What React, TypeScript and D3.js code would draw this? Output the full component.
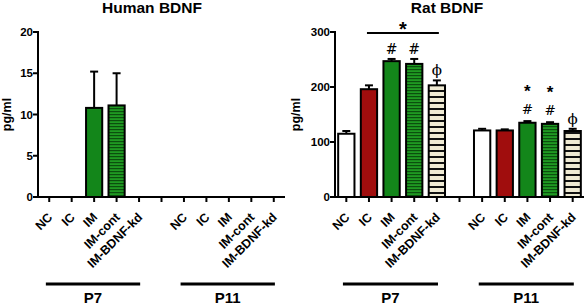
import React from "react";
import * as d3 from "d3";

const categories = ["NC", "IC", "IM", "IM-cont", "IM-BDNF-kd"];
const groups = ["P7", "P11"];

// Human BDNF (pg/ml): null = not detected / no bar
const humanP7: (number | null)[] = [null, null, 10.8, 11.1, null];
const humanP7Err: (number | null)[] = [null, null, 4.4, 3.9, null];
const humanP11: (number | null)[] = [null, null, null, null, null];
const humanP11Err: (number | null)[] = [null, null, null, null, null];

// Rat BDNF (pg/ml)
const ratP7 = [115, 196, 247, 242, 203];
const ratP7Err = [5, 7, 4, 9, 9];
const ratP11 = [121, 121, 135, 133, 120];
const ratP11Err = [3, 2, 3, 3, 4];

const humanTicks = [0, 5, 10, 15, 20];
const ratTicks = [0, 100, 200, 300];

// annotations per group: marks above each bar (top to bottom)
const ratP7Marks = [[], [], ["#"], ["#"], ["ϕ"]];
const ratP11Marks = [[], [], ["*", "#"], ["*", "#"], ["ϕ"]];

const FONT = "'Liberation Sans', Arial, Helvetica, sans-serif";
const SERIF = "'DejaVu Serif', serif";

type PanelProps = {
  id: string;
  title: string;
  titleX: number;
  x0: number;
  x1: number;
  yMax: number;
  ticks: number[];
  data: (number | null)[][];
  errs: (number | null)[][];
  marks?: string[][][];
  sigLine?: boolean;
  ylabelX: number;
};

const fills = (id: string) => [
  "#ffffff",
  "#a00d0d",
  "#13861a",
  `url(#${id}-stripeG)`,
  `url(#${id}-stripeK)`,
];

function Panel(p: PanelProps) {
  const yTop = 32;
  const yBot = 197;
  const y = d3.scaleLinear().domain([0, p.yMax]).range([yBot, yTop]);
  const slots: string[] = [];
  groups.forEach((g, gi) => {
    categories.forEach((c) => slots.push(`${g}|${c}`));
    if (gi < groups.length - 1) slots.push(`gap${gi}`);
  });
  const x = d3.scaleBand().domain(slots).range([p.x0, p.x1]).paddingInner(0.28).paddingOuter(0.14);
  const xc = (s: string) => (x(s) as number) + x.bandwidth() / 2;
  const step = x.step();
  const fl = fills(p.id);

  return (
    <g>
      <defs>
        <pattern id={`${p.id}-stripeG`} patternUnits="userSpaceOnUse" width={4} height={3}>
          <rect width={4} height={3} fill="#1f9a22" />
          <rect width={4} height={1.2} fill="#0b4f0e" />
        </pattern>
        <pattern id={`${p.id}-stripeK`} patternUnits="userSpaceOnUse" width={4} height={6}>
          <rect width={4} height={6} fill="#efead3" />
          <rect width={4} height={2} fill="#111" />
        </pattern>
      </defs>
      <text x={p.titleX} y={12.5} textAnchor="middle" fontFamily={FONT} fontWeight="bold" fontSize={15.5}>
        {p.title}
      </text>
      {/* y axis */}
      <line x1={p.x0} x2={p.x0} y1={yTop - 1} y2={yBot + 1} stroke="#000" strokeWidth={2} />
      {p.ticks.map((t) => (
        <g key={t}>
          <line x1={p.x0 - 5} x2={p.x0} y1={y(t)} y2={y(t)} stroke="#000" strokeWidth={2} />
          <text x={p.x0 - 5} y={y(t) + 4} textAnchor="end" fontFamily={FONT} fontWeight="bold" fontSize={11.5}>
            {t}
          </text>
        </g>
      ))}
      <text
        transform={`translate(${p.ylabelX},${(yTop + yBot) / 2}) rotate(-90)`}
        textAnchor="middle"
        fontFamily={FONT}
        fontWeight="bold"
        fontSize={12.5}
      >
        pg/ml
      </text>
      {/* bars */}
      {groups.map((g, gi) =>
        categories.map((c, ci) => {
          const v = p.data[gi][ci];
          if (v == null) return null;
          const e = p.errs[gi][ci] ?? 0;
          const key = `${g}|${c}`;
          const bx = x(key) as number;
          const cx = xc(key);
          const mk = p.marks ? p.marks[gi][ci] : [];
          const base = y(v + e) - 5;
          return (
            <g key={key}>
              <line x1={cx} x2={cx} y1={y(v)} y2={y(v + e)} stroke="#000" strokeWidth={2} />
              <line x1={cx - 4} x2={cx + 4} y1={y(v + e)} y2={y(v + e)} stroke="#000" strokeWidth={2} />
              <rect
                x={bx}
                y={y(v)}
                width={x.bandwidth()}
                height={yBot - y(v)}
                fill={fl[ci]}
                stroke="#000"
                strokeWidth={2}
              />
              {mk.length === 1 && (
                <text x={cx} y={base} textAnchor="middle" fontFamily={SERIF} fontSize={mk[0] === "#" ? 14 : 15}>
                  {mk[0]}
                </text>
              )}
              {mk.length === 2 && (
                <g>
                  <text x={cx} y={base - 19} textAnchor="middle" fontFamily={FONT} fontWeight="bold" fontSize={17}>
                    {mk[0]}
                  </text>
                  <text x={cx} y={base - 2} textAnchor="middle" fontFamily={SERIF} fontSize={13.5}>
                    {mk[1]}
                  </text>
                </g>
              )}
            </g>
          );
        })
      )}
      {/* x axis */}
      <line x1={p.x0 - 1} x2={p.x1} y1={yBot} y2={yBot} stroke="#000" strokeWidth={2} />
      {slots.map((s) => (
        <line key={s} x1={xc(s)} x2={xc(s)} y1={yBot} y2={yBot + 5} stroke="#000" strokeWidth={2} />
      ))}
      {slots
        .filter((s) => !s.startsWith("gap"))
        .map((s) => (
          <text
            key={s + "l"}
            transform={`translate(${xc(s) + 4},${yBot + 21}) rotate(-45)`}
            textAnchor="end"
            fontFamily={FONT}
            fontWeight="bold"
            fontSize={12.5}
          >
            {s.split("|")[1]}
          </text>
        ))}
      {/* group lines */}
      {groups.map((g) => {
        const a = xc(`${g}|${categories[0]}`) - step * 0.15;
        const b = xc(`${g}|${categories[categories.length - 1]}`) + step * 0.05;
        return (
          <g key={g}>
            <line x1={a} x2={b} y1={284} y2={284} stroke="#000" strokeWidth={3} />
            <text x={(a + b) / 2} y={303} textAnchor="middle" fontFamily={FONT} fontWeight="bold" fontSize={15}>
              {g}
            </text>
          </g>
        );
      })}
      {p.sigLine && (
        <g>
          <line
            x1={xc(`P7|${categories[1]}`) - 2}
            x2={xc(`P7|${categories[4]}`) + 2}
            y1={33}
            y2={33}
            stroke="#000"
            strokeWidth={2}
          />
          <text
            x={(xc(`P7|${categories[1]}`) + xc(`P7|${categories[4]}`)) / 2}
            y={36}
            textAnchor="middle"
            fontFamily={FONT}
            fontWeight="bold"
            fontSize={20}
          >
            *
          </text>
        </g>
      )}
    </g>
  );
}

export default function App() {
  return (
    <svg width={584} height={307} style={{ position: "absolute", left: 0, top: 0, background: "#fff" }}>
      <rect width={584} height={307} fill="#fff" />
      <Panel
        id="h"
        title="Human BDNF"
        titleX={152}
        x0={38}
        x1={285}
        yMax={20}
        ticks={humanTicks}
        data={[humanP7, humanP11]}
        errs={[humanP7Err, humanP11Err]}
        ylabelX={11}
      />
      <Panel
        id="r"
        title="Rat BDNF"
        titleX={447}
        x0={335}
        x1={584}
        yMax={300}
        ticks={ratTicks}
        data={[ratP7, ratP11]}
        errs={[ratP7Err, ratP11Err]}
        marks={[ratP7Marks, ratP11Marks]}
        sigLine
        ylabelX={300}
      />
    </svg>
  );
}
